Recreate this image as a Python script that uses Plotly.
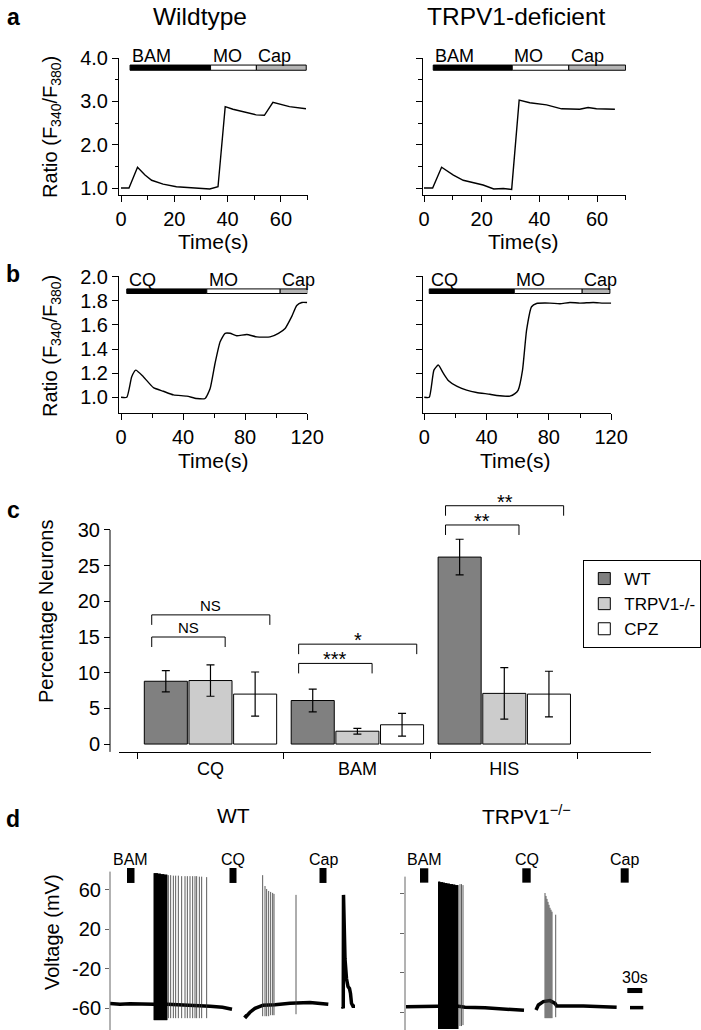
import plotly.graph_objects as go

W, H = 701, 1030
FONT = "Liberation Sans, Arial, Helvetica, sans-serif"


def fx(p):
    return p / W


def fy(p):
    return 1 - p / H


# ---------------- Panel a data ----------------
a_wt_time = [0, 3.0, 6.2, 9.0, 11.5, 15.8, 20.8, 27.0, 33.3, 36.4, 39.1, 42.0, 47.0, 50.7, 53.8, 57.0, 63.2, 69.4]
a_wt_ratio = [1.00, 1.00, 1.48, 1.30, 1.18, 1.09, 1.03, 1.00, 0.98, 1.03, 2.88, 2.82, 2.75, 2.69, 2.68, 2.98, 2.88, 2.83]
a_ko_time = [0, 3.0, 6.1, 10.2, 13.6, 20.5, 24.2, 27.5, 30.4, 33.0, 36.7, 42.5, 47.7, 54.0, 56.9, 59.8, 66.2]
a_ko_ratio = [1.00, 1.00, 1.48, 1.30, 1.18, 1.07, 0.98, 0.99, 0.97, 3.03, 2.97, 2.92, 2.83, 2.82, 2.86, 2.83, 2.82]
a_drugs = ["BAM", "MO", "Cap"]
a_wt_drug_start = [3.4, 33.6, 50.8]
a_wt_drug_end = [33.6, 50.8, 69.5]
a_ko_drug_start = [3.2, 30.6, 50.2]
a_ko_drug_end = [30.6, 50.2, 69.9]

# ---------------- Panel b data ----------------
b_wt_time = [0, 3.7, 6.9, 9.5, 14.4, 20.9, 27.3, 33.8, 42.4, 48.8, 54.2, 57.4, 60.6, 63.9, 67.1, 70.3,
             74.6, 81.1, 87.5, 96.1, 101.5, 105.8, 110.1, 113.3, 116.6, 120.0]
b_wt_ratio = [1.0, 1.0, 1.17, 1.225, 1.17, 1.08, 1.05, 1.02, 1.01, 0.99, 0.99, 1.07, 1.28, 1.46, 1.53, 1.53,
              1.51, 1.52, 1.50, 1.50, 1.53, 1.57, 1.67, 1.76, 1.785, 1.785]
b_ko_time = [0, 3.2, 6.2, 9.0, 12.2, 15.4, 20.8, 27.2, 33.6, 42.2, 46.5, 55.0, 58.2, 60.3, 63.1, 65.7,
             68.9, 72.1, 80.7, 87.1, 93.5, 99.9, 108.5, 114.9, 120.0]
b_ko_ratio = [1.0, 1.0, 1.225, 1.267, 1.2, 1.14, 1.093, 1.06, 1.04, 1.025, 1.015, 1.01, 1.03, 1.06, 1.225, 1.556,
              1.75, 1.777, 1.78, 1.775, 1.785, 1.78, 1.785, 1.78, 1.78]
b_drugs = ["CQ", "MO", "Cap"]
b_wt_drug_start = [3.7, 55.3, 102.6]
b_wt_drug_end = [55.3, 102.6, 120.2]
b_ko_drug_start = [3.2, 57.8, 101.4]
b_ko_drug_end = [57.8, 101.4, 119.2]

# ---------------- Panel c data ----------------
categories = ["CQ", "BAM", "HIS"]
series_names = ["WT", "TRPV1-/-", "CPZ"]
wt_pct = [8.8, 6.1, 26.2]
wt_err = [1.5, 1.6, 2.5]
ko_pct = [8.9, 1.8, 7.1]
ko_err = [2.2, 0.4, 3.6]
cpz_pct = [7.0, 2.7, 7.0]
cpz_err = [3.1, 1.6, 3.2]
# comparisons: (category index, compared series index, bracket height, label)
comp_group = [0, 0, 1, 1, 2, 2]
comp_target = [1, 2, 1, 2, 1, 2]
comp_height = [15.0, 18.1, 11.3, 14.0, 30.7, 33.4]
comp_label = ["NS", "NS", "***", "*", "**", "**"]

# ---------------- Panel d data ----------------
d_drugs = ["BAM", "CQ", "Cap"]
d_wt_drug_start = [34, 239, 419]
d_wt_drug_end = [49, 253, 433]
d_ko_drug_start = [30, 234.6, 431.4]
d_ko_drug_end = [46.6, 251.4, 447.4]
volt_ticks = [-60, -20, 20, 60]
volt_tick_text = ["-60", "-20", "20", "60"]

# WT baseline segments (time s, mV)
wt_seg1_t = [0, 20, 40, 60, 88, 114, 140, 170, 200, 225, 244]
wt_seg1_v = [-55, -56, -55.5, -56, -56, -56, -56.5, -57, -58, -59, -61]
wt_seg2_t = [268.6, 272, 280, 290, 300, 306, 330, 360, 400, 436.6]
wt_seg2_v = [-67, -68.5, -64, -60, -58, -57, -56.5, -55, -54, -56]
wt_seg3_t = [465, 466.5, 467, 468, 470, 473, 476, 479, 481, 483, 486, 490]
wt_seg3_v = [-58, -60, 55, 30, -10, -30, -38, -40, -45, -55, -58, -58]
# WT spikes: dense burst (black) and sparse spikes (thin)
wt_burst_t = [88, 89, 90, 91, 92, 93, 94, 95, 96, 97, 98, 99, 100, 101, 102, 103, 104, 105, 106, 107,
              108, 109, 110, 111, 112, 113, 114]
wt_burst_peak = [77, 77, 77, 77, 77, 77, 77, 77, 76.5, 76.5, 76.5, 76.5, 76.5, 76.5, 76, 76, 76, 76, 76, 76,
                 76, 75.5, 75.5, 75.5, 75.5, 75.5, 75.5]
wt_burst_trough = [-72, -72, -72, -72, -72, -72, -72, -72, -72, -72, -72, -72, -72, -72, -72, -72, -72, -72, -72,
                   -72, -72, -72, -72, -72, -72, -72, -72]
wt_spike_t = [116.7, 121.3, 126.7, 131.3, 136.7, 143.3, 150, 154.7, 160, 165.3, 170, 173.3, 178.7, 183.3, 193.3,
              305.3, 310, 313.3, 317.3, 321.3, 325.3, 328, 372]
wt_spike_peak = [75, 75, 74.5, 74.5, 74.5, 74, 74, 74, 74, 74, 74, 74, 73.5, 73.5, 73,
                 75, 64, 61, 59, 58, 57, 56, 55]
wt_spike_trough = [-70, -70, -70, -70, -70, -70, -70, -70, -70, -70, -70, -70, -70, -70, -70,
                   -68, -68, -68, -68, -67, -67, -67, -66]

# TRPV1-/- baseline segments
ko_seg1_t = [2, 30, 66, 107, 120, 160, 200, 238]
ko_seg1_v = [-54.5, -54, -54, -54, -55, -55.5, -56.5, -58]
ko_seg2_t = [262, 266.7, 276.7, 290, 300, 303.3, 356.7, 423.3]
ko_seg2_v = [-57.7, -52.6, -49.2, -48.2, -51, -53.6, -53.6, -55]
ko_seg3_t = [450, 476.6]
ko_seg3_v = [-55.3, -55.3]
ko_burst_t = [67, 68, 69, 70, 71, 72, 73, 74, 75, 76, 77, 78, 79, 80, 81, 82, 83, 84, 85, 86,
              87, 88, 89, 90, 91, 92, 93, 94, 95, 96, 97, 98, 99, 100, 101, 102, 103, 104, 105, 106]
ko_burst_peak = [72.5, 72.5, 72.5, 72.5, 72, 72, 72, 72, 72, 71.5, 71.5, 71.5, 71.5, 71, 71, 71, 71, 71, 70.5, 70.5,
                 70.5, 70.5, 70.5, 70, 70, 70, 70, 70, 70, 69.5, 69.5, 69.5, 69.5, 69.5, 69, 69, 69, 69, 69, 69]
ko_burst_trough = [-77, -77, -77, -77, -77, -77, -77, -77, -77, -77, -77, -77, -77, -77, -77, -77, -77, -77, -77,
                   -77, -77, -77, -77, -77, -77, -77, -77, -77, -77, -77, -77, -77, -77, -77, -77, -77, -77, -77,
                   -77, -77]
ko_spike_t = [110, 113, 116, 280, 282, 284, 286, 288, 290, 292, 294, 301.4]
ko_spike_peak = [70, 70, 69, 61, 58, 55, 52, 49, 46, 44, 42, 39]
ko_spike_trough = [-74, -74, -73, -66, -66, -66, -66, -66, -66, -66, -66, -65]
scale_bar_start = [444.6]
scale_bar_end = [474.6]

# ---------------- figure ----------------
fig = go.Figure()
line_kw = dict(color="black", width=1.4)

fig.add_trace(go.Scatter(x=a_wt_time, y=a_wt_ratio, mode="lines", line=line_kw, xaxis="x", yaxis="y",
                         showlegend=False, hoverinfo="skip"))
fig.add_trace(go.Scatter(x=a_ko_time, y=a_ko_ratio, mode="lines", line=line_kw, xaxis="x2", yaxis="y2",
                         showlegend=False, hoverinfo="skip"))
fig.add_trace(go.Scatter(x=b_wt_time, y=b_wt_ratio, mode="lines",
                         line=dict(color="black", width=1.4, shape="spline", smoothing=0.5),
                         xaxis="x3", yaxis="y3", showlegend=False, hoverinfo="skip"))
fig.add_trace(go.Scatter(x=b_ko_time, y=b_ko_ratio, mode="lines",
                         line=dict(color="black", width=1.4, shape="spline", smoothing=0.5),
                         xaxis="x4", yaxis="y4", showlegend=False, hoverinfo="skip"))

bar_colors = ["#808080", "#cccccc", "#ffffff"]
for name, vals, errs, col in zip(series_names, [wt_pct, ko_pct, cpz_pct], [wt_err, ko_err, cpz_err], bar_colors):
    fig.add_trace(go.Bar(x=categories, y=vals, name=name, xaxis="x5", yaxis="y5",
                         marker=dict(color=col, line=dict(color="black", width=1)),
                         error_y=dict(type="data", array=errs, color="black", thickness=1.2, width=4),
                         hoverinfo="skip"))


def spike_xy(times, peaks, troughs):
    xs, ys = [], []
    for t, p, tr in zip(times, peaks, troughs):
        xs += [t, t, None]
        ys += [tr, p, None]
    return xs, ys


for seg_t, seg_v, xa, ya in [(wt_seg1_t, wt_seg1_v, "x6", "y6"), (wt_seg2_t, wt_seg2_v, "x6", "y6"),
                             (wt_seg3_t, wt_seg3_v, "x6", "y6"),
                             (ko_seg1_t, ko_seg1_v, "x7", "y7"), (ko_seg2_t, ko_seg2_v, "x7", "y7"),
                             (ko_seg3_t, ko_seg3_v, "x7", "y7")]:
    fig.add_trace(go.Scatter(x=seg_t, y=seg_v, mode="lines", line=dict(color="black", width=3.5),
                             xaxis=xa, yaxis=ya, showlegend=False, hoverinfo="skip"))

for tt, pk, tr, xa, ya, col, wd in [
        (wt_burst_t, wt_burst_peak, wt_burst_trough, "x6", "y6", "black", 1.0),
        (wt_spike_t, wt_spike_peak, wt_spike_trough, "x6", "y6", "#333333", 0.8),
        (ko_burst_t, ko_burst_peak, ko_burst_trough, "x7", "y7", "black", 1.0),
        (ko_spike_t, ko_spike_peak, ko_spike_trough, "x7", "y7", "#333333", 0.8)]:
    sx, sy = spike_xy(tt, pk, tr)
    fig.add_trace(go.Scatter(x=sx, y=sy, mode="lines", line=dict(color=col, width=wd), xaxis=xa, yaxis=ya,
                             showlegend=False, hoverinfo="skip", connectgaps=False))

shapes = []
annotations = []
drug_fill = {"BAM": "black", "CQ": "black", "MO": "white", "Cap": "#b4b4b4"}


def drug_bars(names, starts, ends, xr, yr, y0, y1, size):
    for n, s, e in zip(names, starts, ends):
        shapes.append(dict(type="rect", xref=xr, yref=yr, x0=s, x1=e, y0=y0, y1=y1,
                           fillcolor=drug_fill[n], line=dict(color="black", width=1)))
        annotations.append(dict(text=n, xref=xr, yref=yr, x=s, y=y1, xanchor="left", yanchor="bottom",
                                xshift=0, yshift=-3, showarrow=False, font=dict(size=size, color="black")))


drug_bars(a_drugs, a_wt_drug_start, a_wt_drug_end, "x", "y", 3.72, 3.84, 18)
drug_bars(a_drugs, a_ko_drug_start, a_ko_drug_end, "x2", "y2", 3.72, 3.84, 18)
drug_bars(b_drugs, b_wt_drug_start, b_wt_drug_end, "x3", "y3", 1.8595, 1.8975, 18)
drug_bars(b_drugs, b_ko_drug_start, b_ko_drug_end, "x4", "y4", 1.8595, 1.8975, 18)


def d_bars(starts, ends, xr, yr, y0, y1):
    for n, s, e in zip(d_drugs, starts, ends):
        shapes.append(dict(type="rect", xref=xr, yref=yr, x0=s, x1=e, y0=y0, y1=y1,
                           fillcolor="black", line=dict(width=0)))
        annotations.append(dict(text=n, xref=xr, yref=yr, x=(s + e) / 2, y=y1, xanchor="center",
                                yanchor="bottom", yshift=-2, showarrow=False, font=dict(size=16, color="black")))


d_bars(d_wt_drug_start, d_wt_drug_end, "x6", "y6", 67.1, 82.3)
d_bars(d_ko_drug_start, d_ko_drug_end, "x7", "y7", 71.5, 86.1)
for s, e in zip(scale_bar_start, scale_bar_end):
    shapes.append(dict(type="rect", xref="x7", yref="y7", x0=s, x1=e, y0=-40.5, y1=-35.4,
                       fillcolor="black", line=dict(width=0)))
    annotations.append(dict(text="30s", xref="x7", yref="y7", x=(s + e) / 2, y=-35.4, xanchor="center",
                            yanchor="bottom", yshift=0, showarrow=False, font=dict(size=16, color="black")))

# significance brackets (panel c)
bar_slot = 0.304
for g, tg, hgt, lab in zip(comp_group, comp_target, comp_height, comp_label):
    left = g - 0.40
    right = g + (tg - 1) * bar_slot + 0.10
    shapes.append(dict(type="path", xref="x5", yref="y5",
                       path=f"M {left},{hgt - 1.4} L {left},{hgt} L {right},{hgt} L {right},{hgt - 1.4}",
                       line=dict(color="black", width=1)))
    is_star = lab.startswith("*")
    annotations.append(dict(text=lab, xref="x5", yref="y5", x=(left + right) / 2, y=hgt, xanchor="center",
                            yanchor="bottom", yshift=-9 if is_star else -1, showarrow=False,
                            font=dict(size=20 if is_star else 15, color="black")))

# manual axis lines
shapes.append(dict(type="line", xref="paper", yref="y5", x0=fx(110), x1=fx(110), y0=-1.1, y1=30,
                   line=dict(color="black", width=1)))
shapes.append(dict(type="line", xref="paper", yref="y6", x0=fx(110), x1=fx(110), y0=-82, y1=78.6,
                   line=dict(color="#666666", width=1)))
shapes.append(dict(type="line", xref="paper", yref="y7", x0=fx(405), x1=fx(405), y0=-78, y1=77.6,
                   line=dict(color="#666666", width=1)))


def paper_text(text, x, y, size, bold=False, angle=0, xanchor="center"):
    annotations.append(dict(text=f"<b>{text}</b>" if bold else text, xref="paper", yref="paper",
                            x=fx(x), y=fy(y), xanchor=xanchor, yanchor="middle", showarrow=False,
                            textangle=angle, font=dict(size=size, color="black")))


paper_text("a", 13, 17, 23, bold=True)
paper_text("b", 13, 274, 23, bold=True)
paper_text("c", 13, 510, 23, bold=True)
paper_text("d", 13, 819, 23, bold=True)
paper_text("Wildtype", 199.5, 16, 24.5)
paper_text("TRPV1-deficient", 516.7, 16, 24.5)
paper_text("Ratio (F<sub>340</sub>/F<sub>380</sub>)", 51, 127, 20, angle=-90)
paper_text("Ratio (F<sub>340</sub>/F<sub>380</sub>)", 51, 346, 20, angle=-90)
paper_text("Time(s)", 212.5, 241.5, 21)
paper_text("Time(s)", 523.3, 241.5, 21)
paper_text("Time(s)", 212.5, 460, 21)
paper_text("Time(s)", 515, 460, 21)
paper_text("Percentage Neurons", 46, 612, 20, angle=-90)
paper_text("WT", 233, 815, 21)
paper_text("TRPV1<sup>\u2212/\u2212</sup>", 526.7, 815, 21)
paper_text("Voltage (mV)", 52, 932, 20, angle=-90)


def ax(**kw):
    d = dict(showline=True, linecolor="black", linewidth=1, ticks="outside", ticklen=6, tickwidth=1,
             tickcolor="black", showgrid=False, zeroline=False, automargin=False,
             tickfont=dict(size=20, color="black", family=FONT))
    d.update(kw)
    return d


def minor_x(dt):
    return dict(dtick=dt, ticks="outside", ticklen=3.5, tickcolor="black", tickwidth=1, showgrid=False)


layout = dict(
    width=W, height=H, margin=dict(l=0, r=0, t=0, b=0, pad=0, autoexpand=False),
    paper_bgcolor="white", plot_bgcolor="white",
    font=dict(family=FONT, color="black"),
    barmode="group", bargap=0.088, bargroupgap=0.036,
    showlegend=True,
    legend=dict(x=fx(583.3), y=fy(560), xanchor="left", yanchor="top", bordercolor="black", borderwidth=1,
                bgcolor="white", font=dict(size=17, color="black"), tracegroupgap=0, itemwidth=30),
    xaxis=ax(domain=[fx(119), fx(307.7)], range=[-0.75, 70.05], anchor="y", tick0=0, dtick=20, minor=minor_x(10)),
    yaxis=ax(domain=[fy(195), fy(58)], range=[0.84, 4.003], anchor="x", tick0=0, dtick=1, tickformat=".1f",
             minor=minor_x(0.5)),
    xaxis2=ax(domain=[fx(422.7), fx(626)], range=[-0.45, 70.05], anchor="y2", tick0=0, dtick=20, minor=minor_x(10)),
    yaxis2=ax(domain=[fy(195), fy(58)], range=[0.84, 4.003], anchor="x2", tick0=0, dtick=1, showticklabels=False,
              minor=minor_x(0.5)),
    xaxis3=ax(domain=[fx(119), fx(307.3)], range=[-1.3, 120.1], anchor="y3", tick0=0, dtick=40, minor=minor_x(20)),
    yaxis3=ax(domain=[fy(413), fy(276.3)], range=[0.87, 2.002], anchor="x3", tick0=0, dtick=0.2, tickformat=".1f"),
    xaxis4=ax(domain=[fx(422.7), fx(611.3)], range=[-1.0, 120.1], anchor="y4", tick0=0, dtick=40, minor=minor_x(20)),
    yaxis4=ax(domain=[fy(413), fy(276.3)], range=[0.87, 2.002], anchor="x4", tick0=0, dtick=0.2,
              showticklabels=False),
    xaxis5=ax(domain=[fx(119.4), fx(651.2)], range=[-0.62, 3.0], anchor="y5", type="category", tickson="boundaries",
              tickfont=dict(size=18, color="black", family=FONT)),
    yaxis5=ax(domain=[fy(751.9), fy(494.3)], range=[-1.1, 35], anchor="free", position=fx(110), showline=False,
              tickvals=[0, 5, 10, 15, 20, 25, 30]),
    xaxis6=dict(domain=[fx(110), fx(360)], range=[0, 500], anchor="y6", visible=False, automargin=False),
    yaxis6=ax(domain=[0, fy(866)], range=[-82, 84.3], anchor="x6", showline=False, tickvals=volt_ticks,
              ticktext=volt_tick_text, ticklen=4, tickcolor="#666666"),
    xaxis7=dict(domain=[fx(405), fx(655)], range=[0, 500], anchor="y7", visible=False, automargin=False),
    yaxis7=ax(domain=[0, fy(866)], range=[-78, 88.4], anchor="x7", showline=False, tickvals=volt_ticks,
              ticklen=4, tickcolor="#666666", showticklabels=False),
    shapes=shapes,
    annotations=annotations,
)
fig.update_layout(**layout)
fig.write_html("out.html", config={"displayModeBar": False, "staticPlot": True},
               post_script="var s=document.body.style;s.margin='0';s.padding='0';s.overflow='hidden';"
                           "document.documentElement.style.overflow='hidden';"
                           "var g=document.getElementById('{plot_id}');g.style.position='fixed';"
                           "g.style.left='0px';g.style.top='0px';")
